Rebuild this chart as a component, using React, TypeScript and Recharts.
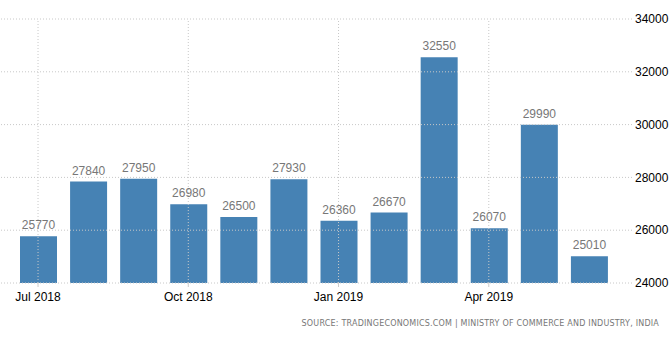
import { BarChart, Bar, XAxis, YAxis, LabelList, ReferenceLine } from 'recharts';

const months = [
  'Jul 2018', 'Aug 2018', 'Sep 2018', 'Oct 2018', 'Nov 2018', 'Dec 2018',
  'Jan 2019', 'Feb 2019', 'Mar 2019', 'Apr 2019', 'May 2019', 'Jun 2019',
];
const exportsValues = [25770, 27840, 27950, 26980, 26500, 27930, 26360, 26670, 32550, 26070, 29990, 25010];
const yTicks = [24000, 26000, 28000, 30000, 32000, 34000];
const xTickMonths = ['Jul 2018', 'Oct 2018', 'Jan 2019', 'Apr 2019'];

const data = months.map((m, i) => ({ month: m, value: exportsValues[i] }));

const font = '"Liberation Sans", Arial, sans-serif';
const gridColor = '#c8c8c8';

const App = () => {
  return (
    <div style={{ position: 'absolute', left: 0, top: 0, width: 672, height: 340, background: '#fff' }}>
      <BarChart
        width={672}
        height={340}
        data={data}
        margin={{ top: 19, right: 0, bottom: 27, left: 0 }}
        barSize={37}
      >
        {/* grid drawn as reference lines so only the labelled months get a vertical */}
        {yTicks.map((t) => (
          <ReferenceLine key={t} y={t} stroke={gridColor} strokeDasharray="1 2" />
        ))}
        {xTickMonths.map((m) => (
          <ReferenceLine key={m} x={m} stroke={gridColor} strokeDasharray="1 2" />
        ))}
        <XAxis
          dataKey="month"
          height={30}
          interval={2}
          tickLine={{ stroke: '#cccccc' }}
          tickSize={4}
          axisLine={false}
          padding={{ left: 13, right: 18 }}
          tickMargin={5}
          tick={{ fill: '#000', fontSize: 12, fontFamily: font }}
        />
        <YAxis
          orientation="right"
          width={40}
          domain={[24000, 34000]}
          ticks={yTicks}
          tickLine={false}
          axisLine={false}
          tickMargin={-3}
          tick={{ fill: '#000', fontSize: 12, fontFamily: font, textAnchor: 'start' }}
          allowDataOverflow
        />
        <Bar dataKey="value" fill="#4682b4" isAnimationActive={false}>
          <LabelList dataKey="value" position="top" offset={7} fill="#777" fontSize={12} fontFamily={font} />
        </Bar>
      </BarChart>
      <div
        style={{
          position: 'absolute',
          right: 13,
          top: 319,
          fontFamily: '"DejaVu Sans", sans-serif',
          fontSize: 8,
          letterSpacing: 0.2,
          color: '#777',
          whiteSpace: 'nowrap',
        }}
      >
        SOURCE: TRADINGECONOMICS.COM | MINISTRY OF COMMERCE AND INDUSTRY, INDIA
      </div>
    </div>
  );
};

export default App;
